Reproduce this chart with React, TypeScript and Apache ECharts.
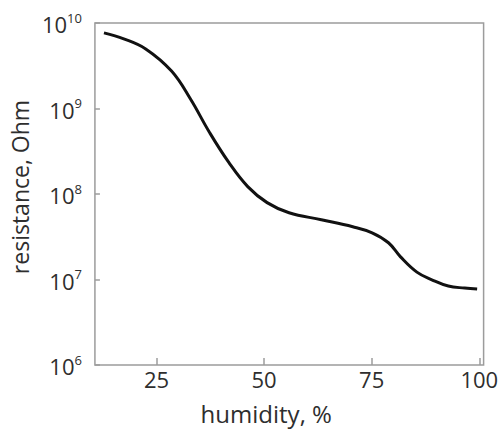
import React, { useEffect, useRef } from "react";
import * as echarts from "echarts";

const humidity = [12.8, 17.4, 22.5, 28.5, 32.9, 37.3, 41.8, 46.2, 50.7, 55.8, 63.3, 70.6, 75.1, 78.9, 81.7, 85.5, 89.1, 92.8, 96.6, 99.5];
const resistance = [7.67e9, 6.53e9, 4.98e9, 2.74e9, 1.29e9, 5.27e8, 2.34e8, 1.22e8, 7.93e7, 6.04e7, 5.0e7, 4.14e7, 3.52e7, 2.69e7, 1.84e7, 1.22e7, 9.86e6, 8.38e6, 7.94e6, 7.73e6];
const xTicks = [25, 50, 75, 100];
const xName = "humidity, %";
const yName = "resistance, Ohm";

const FONT = "'Open Sans', 'DejaVu Sans', sans-serif";
const TEXT = "#2e2e2e";
const AXIS = "#9c9c9c";

export default function App() {
  const ref = useRef<HTMLDivElement>(null);
  useEffect(() => {
    if (!ref.current) return;
    const chart = echarts.init(ref.current, null, { renderer: "svg" });
    chart.setOption({
      animation: false,
      backgroundColor: "#fff",
      grid: {
        left: 80,
        right: 14,
        top: 23,
        bottom: 65,
        show: true,
        borderColor: AXIS,
        borderWidth: 1.5,
      },
      xAxis: {
        type: "value",
        min: 10.7,
        max: 101,
        axisLine: { show: false },
        splitLine: { show: false },
        axisTick: {
          show: true,
          inside: true,
          length: 7,
          lineStyle: { color: AXIS, width: 1.5 },
          customValues: xTicks,
        },
        axisLabel: {
          customValues: xTicks,
          margin: 3,
          fontSize: 22,
          fontFamily: FONT,
          color: TEXT,
        },
        name: xName,
        nameLocation: "middle",
        nameGap: 36,
        nameTextStyle: {
          fontSize: 24,
          fontFamily: FONT,
          color: TEXT,
          padding: [0, 46, 0, 0],
        },
      },
      yAxis: {
        type: "log",
        logBase: 10,
        min: 1e6,
        max: 1e10,
        interval: 1,
        axisLine: { show: false },
        splitLine: { show: false },
        minorTick: { show: false },
        axisTick: {
          show: true,
          inside: true,
          length: 5,
          lineStyle: { color: AXIS, width: 1.5 },
        },
        axisLabel: {
          margin: 13,
          formatter: (v: number) => "{b|10}{s|" + Math.round(Math.log10(v)) + "}",
          rich: {
            b: { fontSize: 22, fontFamily: FONT, color: TEXT, lineHeight: 24, verticalAlign: "bottom" },
            s: { fontSize: 13, fontFamily: FONT, color: TEXT, lineHeight: 14, verticalAlign: "top" },
          },
        },
        name: yName,
        nameLocation: "middle",
        nameGap: 50,
        nameTextStyle: {
          fontSize: 23,
          fontFamily: FONT,
          color: TEXT,
          padding: [0, 0, 0, 14],
        },
      },
      series: [
        {
          type: "line",
          data: humidity.map((h, i) => [h, resistance[i]]),
          smooth: 0.4,
          showSymbol: false,
          lineStyle: { color: "#111", width: 3 },
        },
      ],
    });
    return () => chart.dispose();
  }, []);
  return (
    <div
      ref={ref}
      style={{ position: "absolute", left: 0, top: 0, width: 501, height: 430 }}
    />
  );
}
